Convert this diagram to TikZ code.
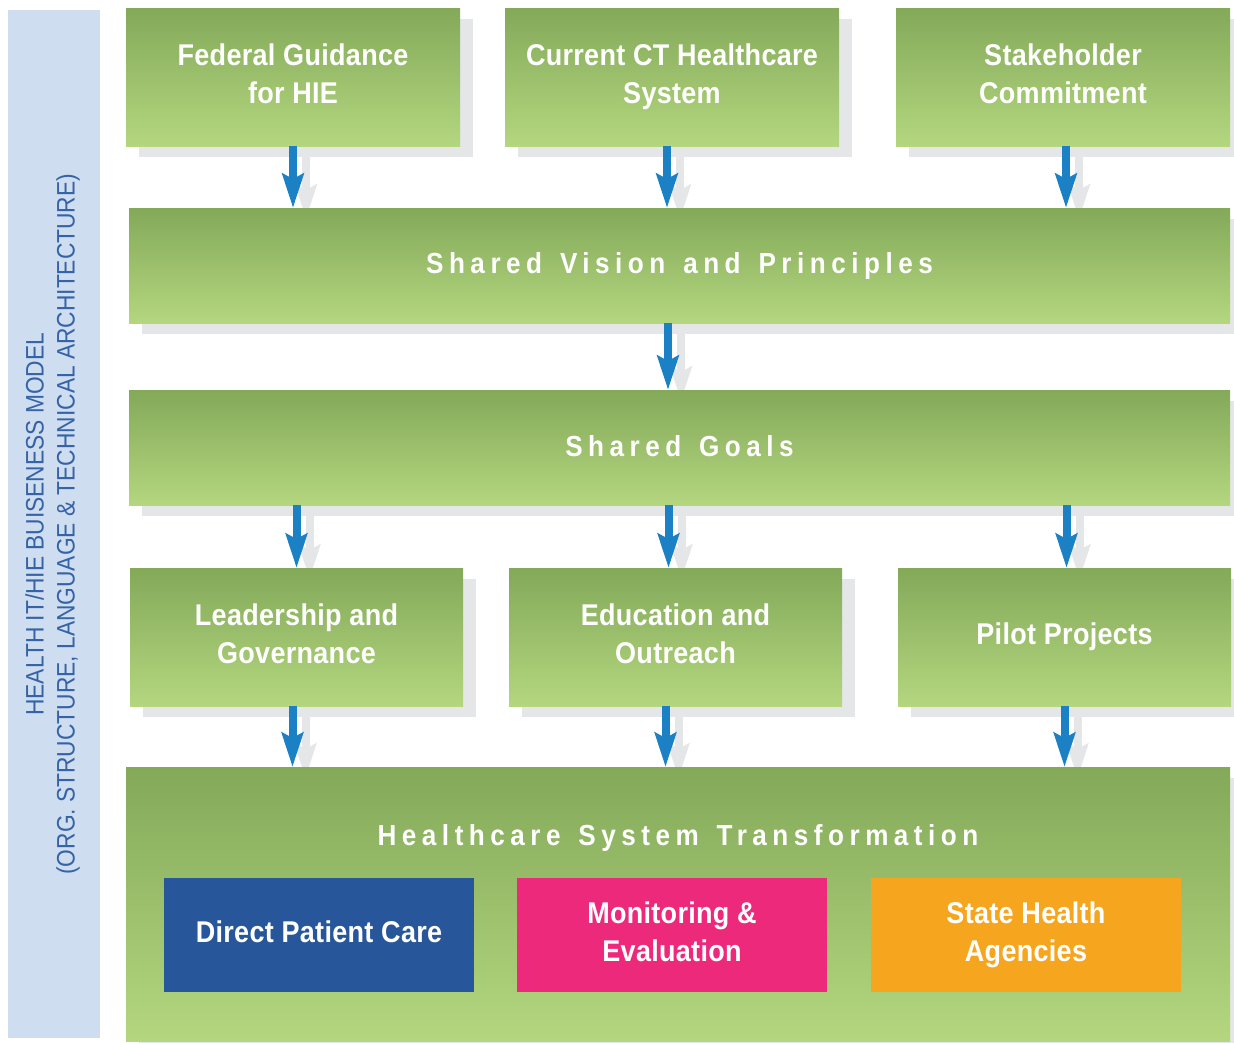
\documentclass[tikz,border=0pt]{standalone}
\usepackage{fontspec}
\setmainfont{Liberation Sans}
\newfontfamily\boxfont[FakeStretch=0.9,LetterSpace=1]{Liberation Sans}
\newfontfamily\titlefont[FakeStretch=0.9,LetterSpace=19,WordSpace=1.4]{Liberation Sans}
\newfontfamily\sidefont[FakeStretch=0.9]{Liberation Sans}
\usetikzlibrary{arrows.meta,backgrounds}
\definecolor{gtop}{HTML}{83A959}
\definecolor{gbot}{HTML}{B4D67F}
\definecolor{shgray}{HTML}{E5E6E8}
\definecolor{arrblue}{HTML}{1B80C4}
\definecolor{sideblue}{HTML}{CEDDF0}
\definecolor{sidetext}{HTML}{3563A6}
\definecolor{dpcblue}{HTML}{27579A}
\definecolor{mepink}{HTML}{EC297B}
\definecolor{shaorange}{HTML}{F6A51E}
\tikzset{
  gbox/.style={anchor=north west, inner sep=0pt, outer sep=0pt, top color=gtop, bottom color=gbot},
  cbox/.style={anchor=north west, inner sep=0pt, outer sep=0pt, minimum width=310pt, minimum height=114pt},
  btxt/.style={inner sep=0pt, text=white, align=center, font=\boxfont\bfseries\fontsize{30}{38}\selectfont},
  ttl/.style={inner sep=0pt, text=white, font=\titlefont\bfseries\fontsize{29}{34}\selectfont},
  arr/.style={draw=arrblue, line width=8pt, -{Stealth[length=34pt,width=21pt,inset=5pt]}},
  sharr/.style={draw=shgray, line width=8pt, -{Stealth[length=34pt,width=21pt,inset=5pt]}},
  shad/.style={fill=shgray}
}
\begin{document}
\begin{tikzpicture}[x=1pt,y=-1pt]
\useasboundingbox (0,0) rectangle (1234,1042);
% sidebar
\node[anchor=north west, fill=sideblue, inner sep=0pt, minimum width=92pt, minimum height=1028pt] (side) at (8,10) {};
\node[rotate=90, align=center, text=sidetext, font=\sidefont\fontsize{25.3}{31}\selectfont] (sidetxt) at ([xshift=-1.5pt]side.center)
  {HEALTH IT/HIE BUISENESS MODEL\\(ORG. STRUCTURE, LANGUAGE \& TECHNICAL ARCHITECTURE)};
% top row
\node[gbox, minimum width=334pt, minimum height=138pt] (fed) at (126,8) {};
\node[btxt] (fedtxt) at (fed.center) {\strut Federal Guidance\\\strut for HIE};
\node[gbox, minimum width=334pt, minimum height=138pt] (cur) at (505,8) {};
\node[btxt] (curtxt) at (cur.center) {\strut Current CT Healthcare\\\strut System};
\node[gbox, minimum width=334pt, minimum height=138pt] (stake) at (896,8) {};
\node[btxt] (staketxt) at (stake.center) {\strut Stakeholder\\\strut Commitment};
% vision / goals
\node[gbox, minimum width=1101pt, minimum height=115pt] (vision) at (129,208) {};
\node[ttl] (visiontxt) at (vision.center) {Shared Vision and Principles};
\node[gbox, minimum width=1101pt, minimum height=115pt] (goals) at (129,390) {};
\node[ttl] (goalstxt) at ([yshift=1pt]goals.center) {Shared Goals};
% row 3
\node[gbox, minimum width=333pt, minimum height=138pt] (lead) at (130,568) {};
\node[btxt] (leadtxt) at (lead.center) {\strut Leadership and\\\strut Governance};
\node[gbox, minimum width=333pt, minimum height=138pt] (edu) at (509,568) {};
\node[btxt] (edutxt) at (edu.center) {\strut Education and\\\strut Outreach};
\node[gbox, minimum width=333pt, minimum height=138pt] (pilot) at (898,568) {};
\node[btxt] (pilottxt) at (pilot.center) {\strut Pilot Projects};
% transformation
\node[gbox, minimum width=1104pt, minimum height=274pt] (hst) at (126,767) {};
\node[ttl] (hsttxt) at ([yshift=-71pt]hst.north) {Healthcare System Transformation};
\node[cbox, fill=dpcblue] (dpc) at (164,878) {};
\node[btxt] (dpctxt) at (dpc.center) {\strut Direct Patient Care};
\node[cbox, fill=mepink] (me) at (517,878) {};
\node[btxt] (metxt) at (me.center) {\strut Monitoring \&\\\strut Evaluation};
\node[cbox, fill=shaorange] (sha) at (871,878) {};
\node[btxt] (shatxt) at (sha.center) {\strut State Health\\\strut Agencies};
% shadows
\begin{scope}[on background layer]
  \foreach \n in {fed,cur,stake,vision,goals,lead,edu,pilot,hst}
    \fill[shad] ([shift={(13,11)}]\n.north west) rectangle ([shift={(13,11)}]\n.south east);
  \draw[sharr] ([shift={(13,11)}]fed.south) -- ([shift={(13,11)}]fed.south |- vision.north);
  \draw[sharr] ([shift={(8,11)}]cur.south) -- ([shift={(8,11)}]cur.south |- vision.north);
  \draw[sharr] ([shift={(16,11)}]stake.south) -- ([shift={(16,11)}]stake.south |- vision.north);
  \draw[sharr] ([shift={(9,11)}]vision.south -| cur.south) -- ([shift={(9,11)}]goals.north -| cur.south);
  \draw[sharr] ([shift={(13,11)}]goals.south -| lead.south) -- ([shift={(13,11)}]lead.north);
  \draw[sharr] ([shift={(6,11)}]goals.south -| edu.south) -- ([shift={(6,11)}]edu.north);
  \draw[sharr] ([shift={(15,11)}]goals.south -| pilot.south) -- ([shift={(15,11)}]pilot.north);
  \draw[sharr] ([shift={(9,11)}]lead.south) -- ([shift={(9,11)}]lead.south |- hst.north);
  \draw[sharr] ([shift={(3,11)}]edu.south) -- ([shift={(3,11)}]edu.south |- hst.north);
  \draw[sharr] ([shift={(13,11)}]pilot.south) -- ([shift={(13,11)}]pilot.south |- hst.north);
\end{scope}
% arrows
\draw[arr] (fed.south) -- (fed.south |- vision.north);
\draw[arr] ([xshift=-5pt]cur.south) -- ([xshift=-5pt]cur.south |- vision.north);
\draw[arr] ([xshift=3pt]stake.south) -- ([xshift=3pt]stake.south |- vision.north);
\draw[arr] ([xshift=-4pt]vision.south -| cur.south) -- ([xshift=-4pt]goals.north -| cur.south);
\draw[arr] (goals.south -| lead.south) -- (lead.north);
\draw[arr] ([xshift=-7pt]goals.south -| edu.south) -- ([xshift=-7pt]edu.north);
\draw[arr] ([xshift=2pt]goals.south -| pilot.south) -- ([xshift=2pt]pilot.north);
\draw[arr] ([xshift=-4pt]lead.south) -- ([xshift=-4pt]lead.south |- hst.north);
\draw[arr] ([xshift=-10pt]edu.south) -- ([xshift=-10pt]edu.south |- hst.north);
\draw[arr] (pilot.south) -- (pilot.south |- hst.north);
\end{tikzpicture}
\end{document}
